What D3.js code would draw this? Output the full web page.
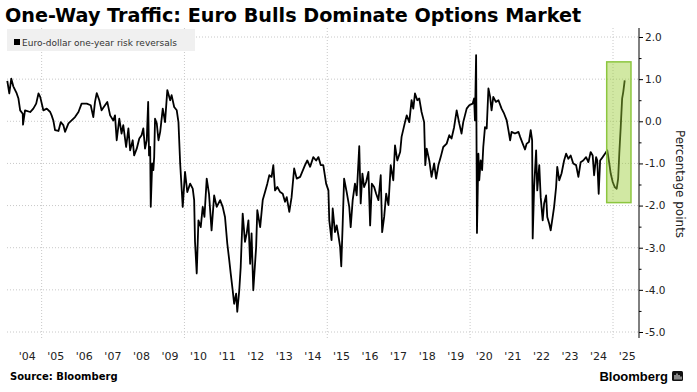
<!DOCTYPE html>
<html>
<head>
<meta charset="utf-8">
<script src="https://cdn.jsdelivr.net/npm/d3@7"></script>
<style>
  body { margin: 0; background: #fff; }
  svg { display: block; font-family: "DejaVu Sans", sans-serif; }
</style>
</head>
<body>
<div id="chart"></div>
<script>
// Euro-dollar one-year risk reversals (decimal year, pct points)
var years = [
  2003.80, 2003.87, 2003.94, 2004.01, 2004.13, 2004.19, 2004.25, 2004.34, 2004.35, 2004.42,
  2004.60, 2004.71, 2004.81, 2004.89, 2004.95, 2005.06, 2005.18, 2005.30, 2005.35, 2005.41,
  2005.47, 2005.59, 2005.67, 2005.76, 2005.82, 2005.94, 2006.05, 2006.17, 2006.29, 2006.40,
  2006.58, 2006.72, 2006.81, 2006.87, 2006.93, 2007.02, 2007.10, 2007.22, 2007.30, 2007.40,
  2007.51, 2007.57, 2007.63, 2007.72, 2007.80, 2007.86, 2007.96, 2008.04, 2008.10, 2008.19,
  2008.24, 2008.33, 2008.42, 2008.50, 2008.56, 2008.62, 2008.68, 2008.73, 2008.76, 2008.80,
  2008.82, 2008.87, 2008.91, 2008.94, 2008.97, 2009.03, 2009.09, 2009.15, 2009.24, 2009.32,
  2009.40, 2009.50, 2009.55, 2009.64, 2009.73, 2009.79, 2009.85, 2009.94, 2010.02, 2010.10,
  2010.20, 2010.29, 2010.34, 2010.37, 2010.43, 2010.49, 2010.57, 2010.64, 2010.70, 2010.78,
  2010.86, 2010.95, 2011.04, 2011.13, 2011.25, 2011.34, 2011.42, 2011.50, 2011.57, 2011.62,
  2011.69, 2011.74, 2011.81, 2011.85, 2011.92, 2011.97, 2012.04, 2012.12, 2012.18, 2012.24,
  2012.30, 2012.35, 2012.41, 2012.51, 2012.55, 2012.65, 2012.74, 2012.82, 2012.90, 2012.97,
  2013.05, 2013.11, 2013.17, 2013.25, 2013.35, 2013.44, 2013.52, 2013.58, 2013.67, 2013.75,
  2013.84, 2013.93, 2014.05, 2014.22, 2014.30, 2014.40, 2014.51, 2014.61, 2014.69, 2014.77,
  2014.86, 2014.96, 2015.04, 2015.07, 2015.15, 2015.19, 2015.27, 2015.33, 2015.39, 2015.45,
  2015.49, 2015.54, 2015.59, 2015.68, 2015.77, 2015.82, 2015.89, 2015.97, 2016.03, 2016.12,
  2016.17, 2016.23, 2016.29, 2016.36, 2016.44, 2016.50, 2016.56, 2016.64, 2016.71, 2016.79,
  2016.87, 2016.92, 2016.99, 2017.06, 2017.14, 2017.22, 2017.31, 2017.37, 2017.45, 2017.55,
  2017.60, 2017.72, 2017.78, 2017.87, 2017.95, 2018.01, 2018.07, 2018.15, 2018.22, 2018.30,
  2018.39, 2018.43, 2018.48, 2018.57, 2018.65, 2018.74, 2018.81, 2018.89, 2018.97, 2019.06,
  2019.18, 2019.27, 2019.35, 2019.44, 2019.53, 2019.62, 2019.70, 2019.76, 2019.88, 2019.97,
  2020.09, 2020.14, 2020.17, 2020.21, 2020.24, 2020.29, 2020.32, 2020.37, 2020.42, 2020.46,
  2020.52, 2020.58, 2020.64, 2020.70, 2020.75, 2020.81, 2020.90, 2020.99, 2021.10, 2021.19,
  2021.28, 2021.34, 2021.40, 2021.45, 2021.57, 2021.69, 2021.75, 2021.84, 2021.92, 2021.98,
  2022.06, 2022.12, 2022.17, 2022.19, 2022.24, 2022.31, 2022.35, 2022.42, 2022.47, 2022.54,
  2022.59, 2022.66, 2022.70, 2022.77, 2022.82, 2022.89, 2022.94, 2023.01, 2023.05, 2023.12,
  2023.20, 2023.29, 2023.36, 2023.44, 2023.52, 2023.61, 2023.71, 2023.79, 2023.87, 2023.96,
  2024.06, 2024.14, 2024.22, 2024.29, 2024.34, 2024.41, 2024.45, 2024.50, 2024.55, 2024.64,
  2024.72, 2024.80, 2024.87, 2024.92, 2024.99, 2025.06, 2025.13, 2025.18, 2025.22, 2025.27,
  2025.32, 2025.36, 2025.41
];
var rr = [
  0.96, 0.66, 1.01, 0.83, 0.66, 0.54, 0.26, 0.18, -0.08, 0.26,
  0.22, 0.30, 0.42, 0.66, 0.58, 0.26, 0.30, 0.22, 0.14, 0.02,
  -0.21, -0.23, -0.02, -0.09, -0.25, -0.05, 0.02, 0.10, 0.22, 0.42,
  0.42, 0.38, 0.10, 0.46, 0.67, 0.50, 0.26, 0.38, 0.46, 0.14,
  0.02, 0.14, -0.45, 0.06, -0.29, -0.09, -0.61, -0.17, -0.69, -0.45,
  -0.81, -0.65, -0.41, -0.33, -0.17, -0.65, -0.45, 0.46, -0.81, -0.61,
  -2.03, -1.00, -1.16, -0.85, 0.06, -0.05, -0.45, -0.25, 0.30, -0.02,
  0.74, 0.50, 0.62, 0.34, 0.26, -0.02, -1.00, -2.03, -1.20, -1.68,
  -1.48, -1.60, -1.87, -2.86, -3.61, -2.35, -2.51, -2.03, -2.27, -1.36,
  -1.72, -2.59, -1.76, -2.03, -1.87, -2.03, -2.27, -2.90, -3.30, -3.61,
  -4.01, -4.33, -4.09, -4.52, -4.01, -3.46, -2.19, -2.86, -2.66, -2.35,
  -3.38, -2.66, -4.01, -2.98, -2.11, -2.51, -1.87, -1.68, -1.48, -1.28,
  -1.32, -1.04, -1.64, -1.56, -1.68, -1.72, -1.91, -1.80, -2.15, -1.80,
  -1.12, -1.36, -1.32, -1.04, -0.93, -1.08, -0.85, -0.93, -0.85, -1.04,
  -1.04, -1.48, -1.64, -2.35, -2.82, -2.07, -2.63, -2.47, -2.71, -2.98,
  -3.44, -2.43, -1.36, -1.68, -2.03, -2.51, -1.87, -1.48, -1.76, -0.59,
  -1.95, -1.24, -1.56, -1.44, -1.20, -2.47, -1.48, -1.56, -1.72, -1.87,
  -1.28, -2.63, -2.27, -1.72, -1.99, -1.04, -1.40, -0.57, -0.93, -0.73,
  -0.37, -0.02, 0.14, -0.02, 0.50, 0.30, 0.66, 0.50, 0.54, 0.22,
  -0.02, -1.04, -0.65, -0.93, -1.32, -1.00, -1.36, -1.04, -0.85, -0.61,
  -0.53, -0.33, -0.41, -0.14, 0.26, -0.05, -0.29, -0.02, 0.30, 0.38,
  0.42, 0.54, 0.02, 1.57, -2.65, -0.77, -1.40, -0.93, -1.16, -0.61,
  -0.14, -0.17, 0.78, 0.58, 0.26, 0.58, 0.46, 0.50, 0.30, 0.18,
  0.02, -0.21, -0.45, -0.25, -0.29, -0.25, -0.37, -0.53, -0.67, -0.53,
  -0.49, -0.21, -0.45, -2.78, -1.56, -0.69, -1.64, -1.04, -1.80, -2.35,
  -1.95, -1.76, -2.27, -2.43, -2.59, -2.27, -2.03, -1.56, -1.08, -1.40,
  -1.24, -0.93, -0.77, -0.89, -0.81, -1.00, -1.04, -1.32, -0.97, -0.93,
  -0.85, -0.97, -0.73, -0.81, -1.28, -0.85, -0.93, -1.72, -0.93, -0.85,
  -0.77, -0.69, -1.00, -1.24, -1.44, -1.56, -1.60, -1.36, -0.77, -0.14,
  0.54, 0.70, 0.97
];

var yearLabels = ["'04", "'05", "'06", "'07", "'08", "'09", "'10", "'11", "'12", "'13", "'14",
                  "'15", "'16", "'17", "'18", "'19", "'20", "'21", "'22", "'23", "'24", "'25"];
var yTicks = [2, 1, 0, -1, -2, -3, -4, -5];
var yMinor = [1.5, 0.5, -0.5, -1.5, -2.5, -3.5, -4.5];
var gridYears = [2005, 2010, 2015, 2020, 2025];
// highlight box around the 2025 surge: [start year, end year, top, bottom]
var highlight = [2024.78, 2025.63, 1.41, -1.93];

function toDate(yr) {
    var y0 = Math.floor(yr);
    var start = new Date(y0, 0, 1), end = new Date(y0 + 1, 0, 1);
    return new Date(+start + (yr - y0) * (end - start));
}

var width = 697, height = 392;
var plotLeft = 7, plotRight = 639, plotTop = 28, plotBottom = 338;

var svg = d3.select("#chart").append("svg")
    .attr("width", width)
    .attr("height", height);

var x = d3.scaleTime()
    .domain([new Date(2004, 0, 1), new Date(2025, 0, 1)])
    .range([13, 613]);

var y = d3.scaleLinear()
    .domain([-5, 2])
    .range([332, 37]);

// title
svg.append("text")
    .attr("x", 5)
    .attr("y", 22)
    .attr("font-size", 19.2)
    .attr("font-weight", "bold")
    .attr("fill", "#000")
    .text("One-Way Traffic: Euro Bulls Dominate Options Market");

// grid
svg.append("g").selectAll("line")
    .data(yTicks)
    .enter().append("line")
    .attr("x1", plotLeft).attr("x2", plotRight)
    .attr("y1", function(d) { return y(d); })
    .attr("y2", function(d) { return y(d); })
    .attr("stroke", "#c8c8c8")
    .attr("stroke-dasharray", "1,2");

svg.append("g").selectAll("line")
    .data(gridYears)
    .enter().append("line")
    .attr("x1", function(d) { return x(new Date(d, 0, 1)); })
    .attr("x2", function(d) { return x(new Date(d, 0, 1)); })
    .attr("y1", plotTop).attr("y2", plotBottom)
    .attr("stroke", "#c8c8c8")
    .attr("stroke-dasharray", "1,2");

// legend
svg.append("rect")
    .attr("x", 7).attr("y", 29)
    .attr("width", 188).attr("height", 22)
    .attr("fill", "#f0f0f0");
svg.append("rect")
    .attr("x", 14).attr("y", 39)
    .attr("width", 6).attr("height", 6)
    .attr("fill", "#000");
svg.append("text")
    .attr("x", 22).attr("y", 45.5)
    .attr("font-size", 9)
    .attr("fill", "#333")
    .text("Euro-dollar one-year risk reversals");

// the series
var series = years.map(function(d, i) { return {date: toDate(d), value: rr[i]}; });

var line = d3.line()
    .x(function(d) { return x(d.date); })
    .y(function(d) { return y(d.value); });

svg.append("path")
    .datum(series)
    .attr("d", line)
    .attr("fill", "none")
    .attr("stroke", "#000")
    .attr("stroke-width", 1.8)
    .attr("stroke-linejoin", "round");

// highlight box (semi-transparent so the line shows through dark)
svg.append("rect")
    .attr("x", x(toDate(highlight[0])))
    .attr("y", y(highlight[2]))
    .attr("width", x(toDate(highlight[1])) - x(toDate(highlight[0])))
    .attr("height", y(highlight[3]) - y(highlight[2]))
    .attr("fill", "#9acd32")
    .attr("fill-opacity", 0.45)
    .attr("stroke", "#8cc63f")
    .attr("stroke-width", 1.5);

// right axis
svg.append("line")
    .attr("x1", plotRight).attr("x2", plotRight)
    .attr("y1", plotTop).attr("y2", plotBottom)
    .attr("stroke", "#000");

var yAxis = svg.append("g")
    .attr("transform", "translate(" + plotRight + ",0)")
    .call(d3.axisRight(y)
        .tickValues(yTicks)
        .tickSize(4)
        .tickPadding(2)
        .tickFormat(function(d) { return d.toFixed(1); }));
yAxis.select(".domain").remove();
yAxis.selectAll("text")
    .attr("font-family", "DejaVu Sans, sans-serif")
    .attr("font-size", 10.5)
    .attr("fill", "#222");

var yAxisMinor = svg.append("g")
    .attr("transform", "translate(" + plotRight + ",0)")
    .call(d3.axisRight(y).tickValues(yMinor).tickSize(2.5).tickFormat(""));
yAxisMinor.select(".domain").remove();

svg.append("text")
    .attr("transform", "translate(676,184) rotate(90)")
    .attr("text-anchor", "middle")
    .attr("font-size", 12)
    .attr("fill", "#222")
    .text("Percentage points");

// year labels centred mid-year
svg.append("g").selectAll("text")
    .data(yearLabels)
    .enter().append("text")
    .attr("x", function(d, i) { return x(new Date(2004 + i, 6, 1)); })
    .attr("y", 360)
    .attr("text-anchor", "middle")
    .attr("font-size", 11)
    .attr("fill", "#222")
    .text(function(d) { return d; });

// footer
svg.append("text")
    .attr("x", 10).attr("y", 380)
    .attr("font-size", 10)
    .attr("font-weight", "bold")
    .attr("fill", "#000")
    .text("Source: Bloomberg");

svg.append("text")
    .attr("x", 668).attr("y", 381)
    .attr("text-anchor", "end")
    .attr("font-family", "Liberation Sans, Arial, sans-serif")
    .attr("font-size", 13)
    .attr("font-weight", "bold")
    .attr("fill", "#000")
    .text("Bloomberg");

var logo = svg.append("g").attr("transform", "translate(672,371)");
logo.append("rect")
    .attr("width", 11).attr("height", 10).attr("rx", 1.5)
    .attr("fill", "#111");
logo.selectAll("line")
    .data([[3, 4], [5, 2.5], [7, 4], [9, 5.5]])
    .enter().append("line")
    .attr("x1", function(d) { return d[0]; })
    .attr("x2", function(d) { return d[0]; })
    .attr("y1", 8.5)
    .attr("y2", function(d) { return d[1]; })
    .attr("stroke", "#fff")
    .attr("stroke-width", 1);
</script>
</body>
</html>
